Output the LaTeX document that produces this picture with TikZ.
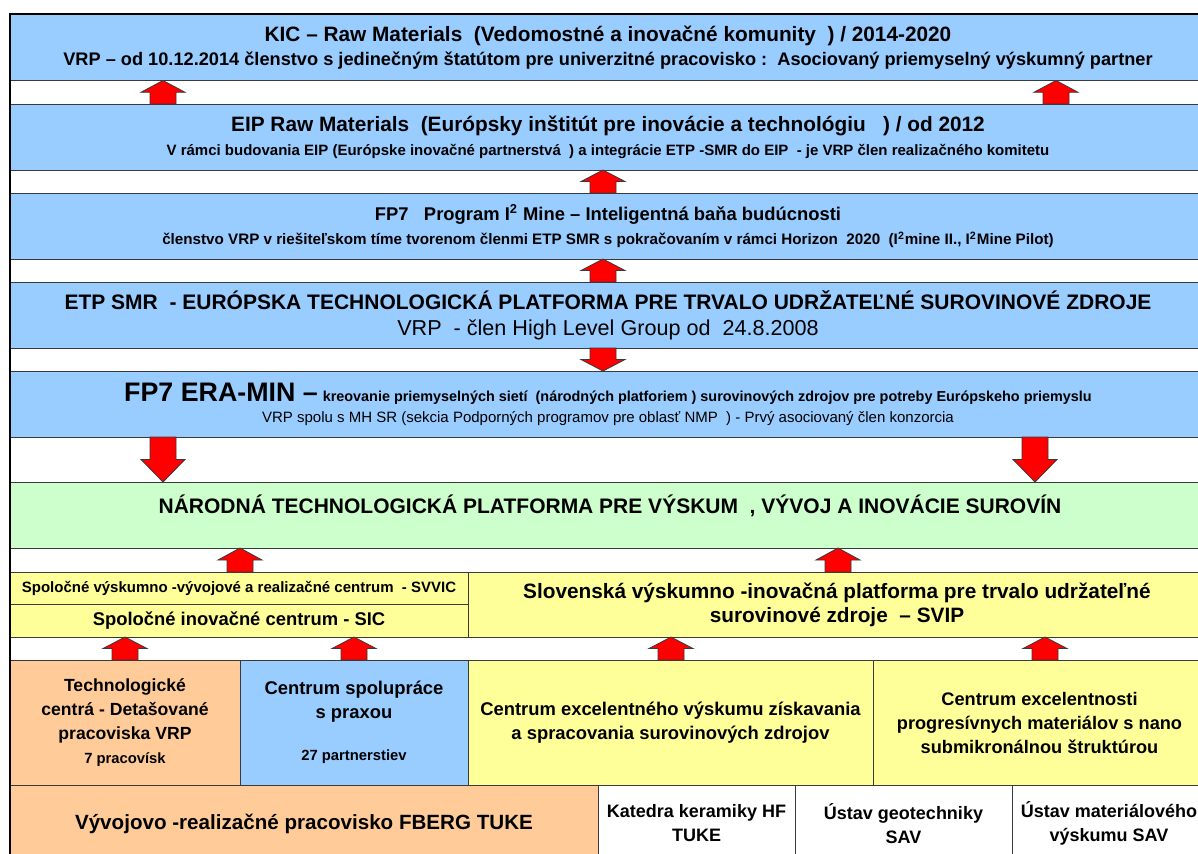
\documentclass[tikz,border=0pt]{standalone}
\usepackage{fontspec}
\setmainfont{Liberation Sans}
\usetikzlibrary{calc}
\definecolor{bandblue}{HTML}{99CCFF}
\definecolor{bandgreen}{HTML}{CCFFCC}
\definecolor{bandyellow}{HTML}{FFFF99}
\definecolor{bandorange}{HTML}{FFCC99}
\definecolor{edge}{HTML}{3A3A3A}
\newcommand\fs[1]{\fontsize{#1}{12}\selectfont}
\begin{document}
\begin{tikzpicture}[x=0.5pt,y=-0.5pt,
  box/.style={draw=edge, line width=0.5pt, inner sep=0pt, outer sep=0pt, align=center, font=\bfseries\fs{9}},
  band/.style={box, fill=bandblue, minimum width=598pt, minimum height=33pt},
  cell/.style={box, minimum height=62.5pt},
  base/.style={box, fill=white, minimum height=38.5pt},
  blk/.style={draw=edge, fill=red, line width=0.4pt,
    to path={let \p1=(\tikztostart), \p2=(\tikztotarget) in
      (\x1-6.5pt,\y1) -- (\x1-6.5pt,{(\y1+\y2)/2}) -- (\x1-11pt,{(\y1+\y2)/2}) -- (\x2,\y2)
      -- (\x1+11pt,{(\y1+\y2)/2}) -- (\x1+6.5pt,{(\y1+\y2)/2}) -- (\x1+6.5pt,\y1) -- cycle}}]
\useasboundingbox (0,0) rectangle (1198,853);
\clip (0,0) rectangle (1198,853);
\fill[white] (0,0) rectangle (1198,853);
\node[band] (kic) at (608,47.5) {{\fs{10.4}KIC – Raw Materials\ \ (Vedomostné a inovačné komunity\ \ ) / 2014-2020}\\{\fs{9.1}VRP – od 10.12.2014 členstvo s jedinečným štatútom pre univerzitné pracovisko :\ \ Asociovaný priemyselný výskumný partner}};
\node[band] (eip) at (608,137) {{\fs{10.4}EIP Raw Materials\ \ (Európsky inštitút pre inovácie a technológiu\ \ \ ) / od 2012}\\{\fs{7.5}V rámci budovania EIP\ (Európske inovačné partnerstvá\ \ ) a integrácie ETP -SMR do EIP\ \ - je VRP člen realizačného komitetu}};
\node[band] (fp7) at (608,226) {{\fs{9.2}FP7\ \ \ Program I\textsuperscript{2} Mine – Inteligentná baňa budúcnosti}\\{\fs{7.6}členstvo VRP v riešiteľskom tíme tvorenom členmi ETP SMR s pokračovaním v rámci Horizon\ \ 2020\ \ (I\textsuperscript{2}mine II., I\textsuperscript{2}Mine Pilot)}};
\node[band] (etp) at (608,315) {{\fs{10.5}ETP SMR\ \ - EURÓPSKA TECHNOLOGICKÁ PLATFORMA PRE TRVALO UDRŽATEĽNÉ SUROVINOVÉ ZDROJE}\\[1pt]{\mdseries\fs{10.8}VRP\ \ - člen High Level Group od\ \ 24.8.2008}};
\node[band] (era) at (608,404) {{\fs{13.4}FP7 ERA-MIN –} {\fs{7.2}kreovanie priemyselných sietí\ \ (národných platforiem ) surovinových zdrojov pre potreby Európskeho priemyslu}\\[-1.5pt]{\mdseries\fs{7.5}VRP spolu s MH SR (sekcia Podporných programov pre oblasť NMP\ \ ) - Prvý asociovaný člen konzorcia}};
\node[band, fill=bandgreen] (nat) at (608,515) {};
\node[font=\bfseries\fs{10.5}, inner sep=0pt] (nattext) at (610,506) {NÁRODNÁ TECHNOLOGICKÁ PLATFORMA PRE VÝSKUM\ \ , VÝVOJ A INOVÁCIE SUROVÍN};
\node[box, fill=bandyellow, minimum width=229pt, minimum height=16pt] (svvic) at (239,588) {\fs{7.5}Spoločné výskumno -vývojové a realizačné centrum\ \ - SVVIC};
\node[box, fill=bandyellow, minimum width=229pt, minimum height=16.5pt] (sic) at (239,620.5) {\fs{9.2}Spoločné inovačné centrum - SIC};
\node[box, fill=bandyellow, minimum width=369pt, minimum height=32.5pt] (svip) at (837,604.5) {\fs{10.4}Slovenská výskumno -inovačná platforma pre trvalo udržateľné\\\fs{10.4}surovinové zdroje\ \ – SVIP};
\node[cell, fill=bandorange, minimum width=115pt] (tech) at (125,722.5) {\fs{8.8}Technologické\\\fs{8.8}centrá - Detašované\\\fs{8.8}pracoviska VRP\\\fs{7.4}7 pracovísk};
\node[cell, fill=bandblue, minimum width=114pt] (praxe) at (354,722.5) {\fs{9.2}Centrum spolupráce\\\fs{9.2}s praxou\\[9pt]\fs{7.4}27\ partnerstiev};
\node[cell, fill=bandyellow, minimum width=202.5pt] (cevyz) at (670.5,722.5) {\fs{9.2}Centrum excelentného výskumu získavania\\\fs{9.2}a spracovania surovinových zdrojov};
\node[cell, fill=bandyellow, minimum width=166.5pt] (cemat) at (1039.5,722.5) {\fs{9.1}Centrum excelentnosti\\\fs{9.1}progresívnych materiálov s nano\\\fs{9.1}submikronálnou štruktúrou};
\node[base, fill=bandorange, minimum width=294pt] (fberg) at (304,823.5) {\fs{10.3}Vývojovo -realizačné pracovisko FBERG TUKE};
\node[base, minimum width=98.5pt] (kerhf) at (696.5,823.5) {\fs{9}Katedra keramiky HF\\\fs{9}TUKE};
\node[base, minimum width=108.5pt] (geo) at (903.5,823.5) {\fs{9}Ústav geotechniky\\\fs{9}SAV};
\node[base, minimum width=97pt] (mat) at (1109,823.5) {\fs{9}Ústav materiálového\\\fs{9}výskumu SAV};
\draw[line width=1pt] (10,14) rectangle (1230,900);
\coordinate (colA) at (163,0);
\coordinate (colB) at (1056,0);
\coordinate (colC) at (603,0);
\coordinate (colD) at (1035,0);
\coordinate (colE) at (240,0);
\coordinate (colF) at (838,0);
\coordinate (colG) at (125,0);
\coordinate (colH) at (354,0);
\coordinate (colI) at (671,0);
\coordinate (colJ) at (1045,0);
\draw[blk] (colA |- eip.north) to (colA |- kic.south);
\draw[blk] (colB |- eip.north) to (colB |- kic.south);
\draw[blk] (colC |- fp7.north) to (colC |- eip.south);
\draw[blk] (colC |- etp.north) to (colC |- fp7.south);
\draw[blk] (colC |- etp.south) to (colC |- era.north);
\draw[blk] (colA |- era.south) to (colA |- nat.north);
\draw[blk] (colD |- era.south) to (colD |- nat.north);
\draw[blk] (colE |- svvic.north) to (colE |- nat.south);
\draw[blk] (colF |- svip.north) to (colF |- nat.south);
\draw[blk] (colG |- tech.north) to (colG |- sic.south);
\draw[blk] (colH |- praxe.north) to (colH |- sic.south);
\draw[blk] (colI |- cevyz.north) to (colI |- svip.south);
\draw[blk] (colJ |- cemat.north) to (colJ |- svip.south);
\end{tikzpicture}
\end{document}
